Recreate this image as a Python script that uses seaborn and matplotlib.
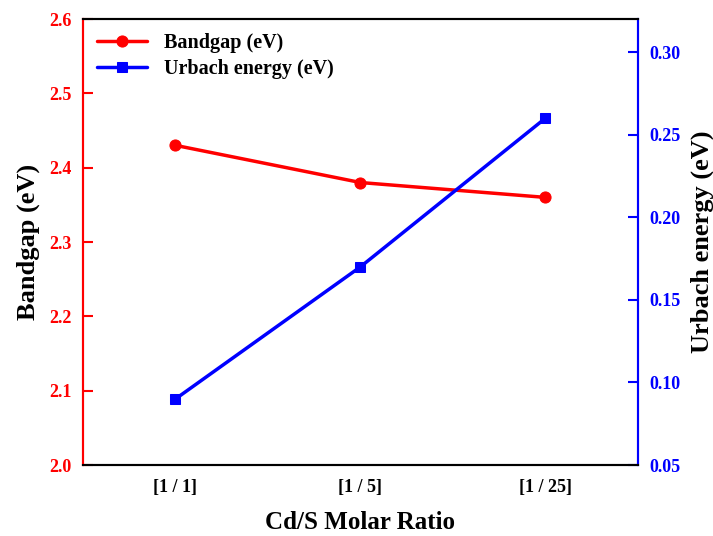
import matplotlib
matplotlib.use("Agg")
import matplotlib.pyplot as plt
import seaborn as sns
import pandas as pd

categories = ["[1 / 1]", "[1 / 5]", "[1 / 25]"]
bandgap = [2.43, 2.38, 2.36]
urbach = [0.09, 0.17, 0.26]
left_ticks = [2.0, 2.1, 2.2, 2.3, 2.4, 2.5, 2.6]
right_ticks = [0.05, 0.10, 0.15, 0.20, 0.25, 0.30]

sns.set_theme(style="white")
plt.rcParams['font.family'] = ['Liberation Serif', 'DejaVu Serif']
plt.rcParams['font.weight'] = 'bold'
plt.rcParams['text.color'] = 'black'
plt.rcParams['axes.labelcolor'] = 'black'

df = pd.DataFrame({"x": list(range(len(categories))), "bandgap": bandgap, "urbach": urbach})

fig = plt.figure(figsize=(7.13, 5.36), dpi=100)
ax = fig.add_axes([83/713, 1-465/536, (638-83)/713, (465-19)/536])
ax2 = ax.twinx()

red = "#ff0000"
blue = "#0000ff"
sns.lineplot(data=df, x="x", y="bandgap", ax=ax, color=red, marker="o", markersize=8,
             linewidth=2.5, markeredgecolor=red, label="Bandgap (eV)", legend=False)
sns.lineplot(data=df, x="x", y="urbach", ax=ax2, color=blue, marker="s", markersize=7,
             linewidth=2.5, markeredgecolor=blue, label="Urbach energy (eV)", legend=False)

ax.set_xlim(-0.5, 2.5)
ax.set_ylim(2.0, 2.6)
ax2.set_ylim(0.05, 0.32)
ax.set_xticks(range(len(categories)))
ax.set_xticklabels(categories, fontsize=13, fontweight='bold', color='black')
ax.set_yticks(left_ticks)
ax.set_yticklabels([f"{v:.1f}" for v in left_ticks], fontsize=13, fontweight='bold', color=red)
ax2.set_yticks(right_ticks)
ax2.set_yticklabels([f"{v:.2f}" for v in right_ticks], fontsize=13, fontweight='bold', color=blue)

ax.set_xlabel("Cd/S Molar Ratio", fontsize=18, fontweight='bold', labelpad=11, color='black')
ax.set_ylabel("Bandgap (eV)", fontsize=19, fontweight='bold', labelpad=7, color='black')
ax2.set_ylabel("Urbach energy (eV)", fontsize=19, fontweight='bold', labelpad=7, color='black')

ax.tick_params(axis='x', direction='in', length=7, width=1.5, pad=10, colors='black')
ax.tick_params(axis='y', direction='in', length=7, width=1.5, colors=red, pad=8)
ax2.tick_params(axis='y', direction='in', length=7, width=1.5, colors=blue, pad=8)

for a in (ax, ax2):
    for s in a.spines.values():
        s.set_linewidth(1.5)
        s.set_visible(True)
    a.spines['left'].set_color(red)
    a.spines['right'].set_color(blue)
    a.spines['top'].set_color('black')
    a.spines['bottom'].set_color('black')

h1, l1 = ax.get_legend_handles_labels()
h2, l2 = ax2.get_legend_handles_labels()
leg = ax.legend(h1 + h2, l1 + l2, loc='upper left', frameon=False,
                prop={'weight': 'bold', 'size': 14.5}, handlelength=2.5, borderaxespad=0.3,
                labelspacing=0.3)
for t in leg.get_texts():
    t.set_color('black')

fig.savefig("out.png", dpi=100)
